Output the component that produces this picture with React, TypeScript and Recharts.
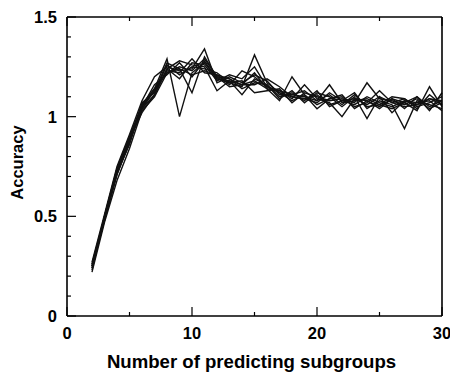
import React from 'react';
import { LineChart, Line, XAxis, YAxis } from 'recharts';

// x positions: number of predicting subgroups
const subgroups = [2, 3, 4, 5, 6, 7, 8, 9, 10, 11, 12, 13, 14, 15, 16, 17, 18, 19, 20, 21, 22, 23, 24, 25, 26, 27, 28, 29, 30];

// accuracy for each run
const run1 = [0.26, 0.5, 0.74, 0.9, 1.06, 1.14, 1.29, 1.0, 1.22, 1.27, 1.19, 1.17, 1.15, 1.31, 1.17, 1.12, 1.1, 1.09, 1.07, 1.12, 1.08, 1.06, 1.1, 1.07, 1.05, 1.08, 1.06, 1.09, 1.06];
const run2 = [0.24, 0.48, 0.71, 0.87, 1.04, 1.11, 1.24, 1.28, 1.26, 1.25, 1.13, 1.18, 1.16, 1.18, 1.14, 1.08, 1.2, 1.11, 1.06, 1.09, 1.11, 1.04, 1.08, 1.05, 1.09, 1.04, 1.1, 1.05, 1.08];
const run3 = [0.25, 0.49, 0.73, 0.88, 1.05, 1.13, 1.23, 1.22, 1.29, 1.22, 1.21, 1.16, 1.23, 1.2, 1.15, 1.13, 1.09, 1.16, 1.09, 1.07, 1.0, 1.09, 1.06, 1.1, 1.07, 1.09, 1.05, 1.07, 1.1];
const run4 = [0.22, 0.47, 0.68, 0.84, 1.03, 1.1, 1.22, 1.24, 1.12, 1.3, 1.2, 1.19, 1.14, 1.17, 1.16, 1.1, 1.12, 1.08, 1.13, 1.05, 1.08, 1.12, 1.04, 1.08, 1.06, 0.94, 1.08, 1.06, 1.04];
const run5 = [0.27, 0.51, 0.75, 0.91, 1.08, 1.2, 1.25, 1.23, 1.24, 1.34, 1.17, 1.2, 1.17, 1.21, 1.18, 1.11, 1.11, 1.1, 1.08, 1.16, 1.07, 1.08, 1.09, 1.06, 1.04, 1.07, 1.03, 1.15, 1.05];
const run6 = [0.25, 0.48, 0.72, 0.86, 1.07, 1.12, 1.26, 1.21, 1.25, 1.24, 1.22, 1.17, 1.18, 1.12, 1.13, 1.14, 1.07, 1.12, 1.1, 1.08, 1.09, 1.07, 1.17, 1.09, 1.08, 1.06, 1.09, 1.04, 1.07];
const run7 = [0.26, 0.49, 0.72, 0.88, 1.05, 1.16, 1.21, 1.27, 1.2, 1.28, 1.19, 1.18, 1.11, 1.19, 1.16, 1.09, 1.13, 1.07, 1.12, 1.1, 1.05, 1.1, 0.99, 1.1, 1.02, 1.08, 1.07, 1.08, 1.03];
const run8 = [0.23, 0.5, 0.73, 0.89, 1.02, 1.11, 1.24, 1.19, 1.27, 1.26, 1.18, 1.21, 1.19, 1.25, 1.15, 1.12, 1.08, 1.11, 1.04, 1.09, 1.1, 1.05, 1.07, 1.13, 1.07, 1.05, 1.06, 1.09, 1.08];
const run9 = [0.25, 0.49, 0.71, 0.87, 1.06, 1.14, 1.22, 1.25, 1.23, 1.29, 1.2, 1.15, 1.16, 1.16, 1.19, 1.15, 1.1, 1.09, 1.11, 1.06, 1.08, 1.09, 1.08, 1.04, 1.09, 1.07, 1.1, 1.03, 1.12];
const run10 = [0.24, 0.5, 0.74, 0.9, 1.04, 1.13, 1.27, 1.24, 1.21, 1.23, 1.21, 1.19, 1.16, 1.22, 1.14, 1.13, 1.11, 1.13, 1.08, 1.11, 1.06, 1.11, 1.05, 1.06, 1.1, 1.09, 1.04, 1.11, 1.06];

const runs = [run1, run2, run3, run4, run5, run6, run7, run8, run9, run10];

const xTicks = [0, 5, 10, 15, 20, 25, 30];
const yTicks = [0, 0.1, 0.2, 0.3, 0.4, 0.5, 0.6, 0.7, 0.8, 0.9, 1, 1.1, 1.2, 1.3, 1.4, 1.5];

const rows = subgroups.map((n, i) => {
  const row: Record<string, number> = { n };
  runs.forEach((r, k) => {
    row[`run${k + 1}`] = r[i];
  });
  return row;
});

const FONT = '"Liberation Sans", Arial, Helvetica, sans-serif';
const isMajorX = (v: number) => v % 10 === 0;
const isMajorY = (v: number) => Math.abs(v * 2 - Math.round(v * 2)) < 1e-6;

const BottomTick = ({ x, y, payload }: any) => {
  const major = isMajorX(payload.value);
  return (
    <g>
      <line x1={x} y1={y} x2={x} y2={y - (major ? 9 : 4)} stroke="#000" strokeWidth={1.2} />
      {major && (
        <text x={x} y={y + 23} textAnchor="middle" fontFamily={FONT} fontWeight="bold" fontSize={16.5} fill="#000">
          {payload.value}
        </text>
      )}
    </g>
  );
};

const TopTick = ({ x, y, payload }: any) => {
  const major = isMajorX(payload.value);
  return <line x1={x} y1={y} x2={x} y2={y + (major ? 9 : 4)} stroke="#000" strokeWidth={1.2} />;
};

const LeftTick = ({ x, y, payload }: any) => {
  const major = isMajorY(payload.value);
  return (
    <g>
      <line x1={x} y1={y} x2={x + (major ? 9 : 4)} y2={y} stroke="#000" strokeWidth={1.2} />
      {major && (
        <text x={x - 10} y={y + 6} textAnchor="end" fontFamily={FONT} fontWeight="bold" fontSize={16.5} fill="#000">
          {String(payload.value)}
        </text>
      )}
    </g>
  );
};

const RightTick = ({ x, y, payload }: any) => {
  const major = isMajorY(payload.value);
  return <line x1={x} y1={y} x2={x - (major ? 9 : 4)} y2={y} stroke="#000" strokeWidth={1.2} />;
};

export default function App() {
  return (
    <div style={{ position: 'absolute', left: 0, top: 0, background: '#fff' }}>
      <LineChart width={450} height={372} data={rows} margin={{ top: 16, right: 7, bottom: 0, left: 0 }}>
        <XAxis
          dataKey="n"
          type="number"
          domain={[0, 30]}
          ticks={xTicks}
          interval={0}
          height={56}
          tickSize={0}
          tickMargin={0}
          tickLine={false}
          tick={<BottomTick />}
          axisLine={{ stroke: '#000', strokeWidth: 1.6 }}
          label={{
            content: ({ viewBox }: any) => (
              <text
                x={viewBox.x + viewBox.width / 2 - 3}
                y={viewBox.y + 52}
                textAnchor="middle"
                fontFamily={FONT}
                fontWeight="bold"
                fontSize={18.6}
                fill="#000"
              >
                Number of predicting subgroups
              </text>
            ),
          }}
        />
        <XAxis
          xAxisId="top"
          orientation="top"
          dataKey="n"
          type="number"
          domain={[0, 30]}
          ticks={xTicks}
          interval={0}
          height={1}
          tickSize={0}
          tickMargin={0}
          tickLine={false}
          tick={<TopTick />}
          axisLine={{ stroke: '#000', strokeWidth: 1.6 }}
        />
        <YAxis
          type="number"
          domain={[0, 1.5]}
          ticks={yTicks}
          interval={0}
          width={67}
          tickSize={0}
          tickMargin={0}
          tickLine={false}
          tick={<LeftTick />}
          axisLine={{ stroke: '#000', strokeWidth: 1.6 }}
          label={{
            content: ({ viewBox }: any) => {
              const cx = viewBox.x + 23;
              const cy = viewBox.y + viewBox.height / 2 - 4;
              return (
                <text
                  x={cx}
                  y={cy}
                  transform={`rotate(-90, ${cx}, ${cy})`}
                  textAnchor="middle"
                  fontFamily={FONT}
                  fontWeight="bold"
                  fontSize={16.5}
                  fill="#000"
                >
                  Accuracy
                </text>
              );
            },
          }}
        />
        <YAxis
          yAxisId="right"
          orientation="right"
          type="number"
          domain={[0, 1.5]}
          ticks={yTicks}
          interval={0}
          width={1}
          tickSize={0}
          tickMargin={0}
          tickLine={false}
          tick={<RightTick />}
          axisLine={{ stroke: '#000', strokeWidth: 1.6 }}
        />
        {runs.map((_, k) => (
          <Line
            key={k}
            type="linear"
            dataKey={`run${k + 1}`}
            stroke="#111"
            strokeWidth={1.4}
            dot={false}
            activeDot={false}
            isAnimationActive={false}
          />
        ))}
      </LineChart>
    </div>
  );
}
